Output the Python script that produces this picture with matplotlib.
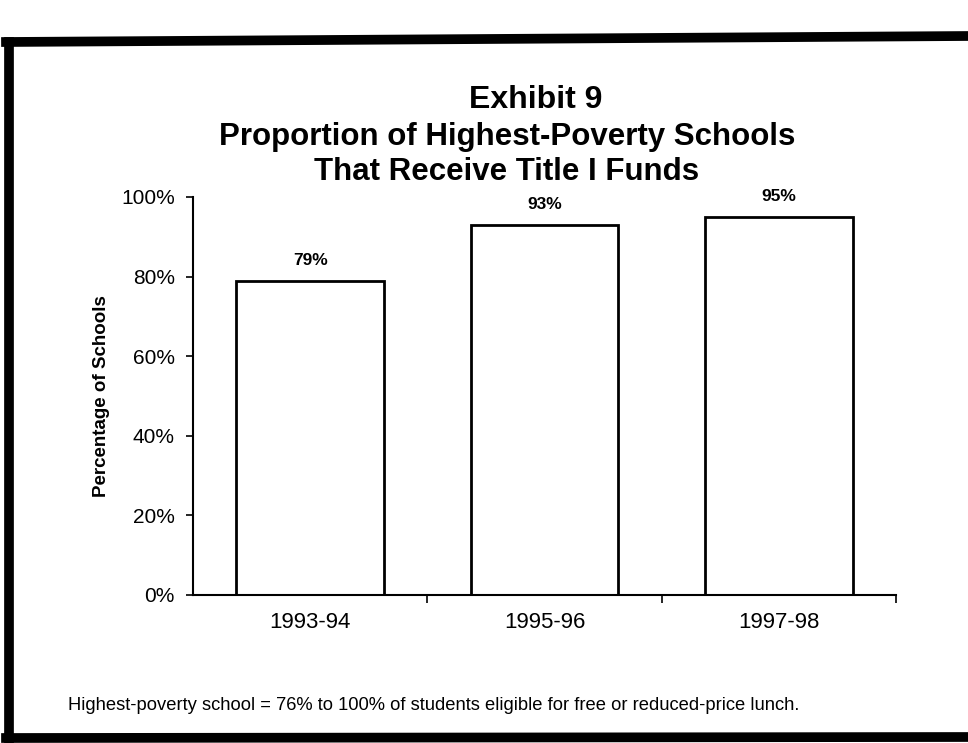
import matplotlib
matplotlib.use("Agg")
import matplotlib.pyplot as plt
from matplotlib.lines import Line2D

categories = ["1993-94", "1995-96", "1997-98"]
values = [79, 93, 95]
value_labels = ["79%", "93%", "95%"]
yticks = [0, 20, 40, 60, 80, 100]
ytick_labels = ["0%", "20%", "40%", "60%", "80%", "100%"]

plt.rcParams['font.family'] = ['Liberation Sans', 'DejaVu Sans']

W, H = 968, 743
fig = plt.figure(figsize=(W / 100, H / 100), dpi=100)
fig.patch.set_facecolor("white")

# axes placement
x0, x1 = 193, 896
y0, y1 = 595, 197
ax = fig.add_axes([x0 / W, 1 - y0 / H, (x1 - x0) / W, (y0 - y1) / H])

xpos = list(range(len(categories)))
ax.bar(xpos, values, width=0.63, color="white", edgecolor="black", linewidth=2.0, zorder=2)
for x, v, lab in zip(xpos, values, value_labels):
    ax.annotate(lab, (x, v), xytext=(0, 9), textcoords="offset points",
                ha="center", va="bottom", fontsize=12.5, fontweight="bold")

ax.set_xlim(-0.5, len(categories) - 0.5)
ax.set_ylim(0, 100)
ax.set_yticks(yticks)
ax.set_yticklabels(ytick_labels, fontsize=15)
ax.set_xticks(xpos)
ax.set_xticklabels(categories, fontsize=16)
ax.tick_params(axis="x", length=0, pad=12)
ax.set_xticks([0.5, 1.5, 2.5], minor=True)
ax.tick_params(axis="x", which="minor", length=6, width=1.2, direction="out")
ax.tick_params(axis="y", length=5, width=1.2, direction="out", pad=8)
for s in ["top", "right"]:
    ax.spines[s].set_visible(False)
ax.spines["left"].set_linewidth(1.5)
ax.spines["bottom"].set_linewidth(1.5)
ax.set_ylabel("Percentage of Schools", fontsize=13.5, fontweight="bold", labelpad=8)

# title
fig.text(536 / W, 1 - 100 / H, "Exhibit 9", ha="center", va="center",
         fontsize=23, fontweight="bold")
fig.text(507 / W, 1 - 137 / H, "Proportion of Highest-Poverty Schools", ha="center",
         va="center", fontsize=22.5, fontweight="bold")
fig.text(507 / W, 1 - 172 / H, "That Receive Title I Funds", ha="center", va="center",
         fontsize=22.5, fontweight="bold")

# footnote
fig.text(68 / W, 1 - 705 / H,
         "Highest-poverty school = 76% to 100% of students eligible for free or reduced-price lunch.",
         ha="left", va="center", fontsize=13.2)

# scanned frame
lw = 7
fig.add_artist(Line2D([9 / W, 9 / W], [1 - 42 / H, 1 - 739 / H], transform=fig.transFigure,
                      color="black", linewidth=lw))
fig.add_artist(Line2D([6 / W, 1.0], [1 - 42 / H, 1 - 36 / H], transform=fig.transFigure,
                      color="black", linewidth=lw))
fig.add_artist(Line2D([6 / W, 1.0], [1 - 738 / H, 1 - 737 / H], transform=fig.transFigure,
                      color="black", linewidth=lw))

fig.savefig("out.png", dpi=100, facecolor="white")
